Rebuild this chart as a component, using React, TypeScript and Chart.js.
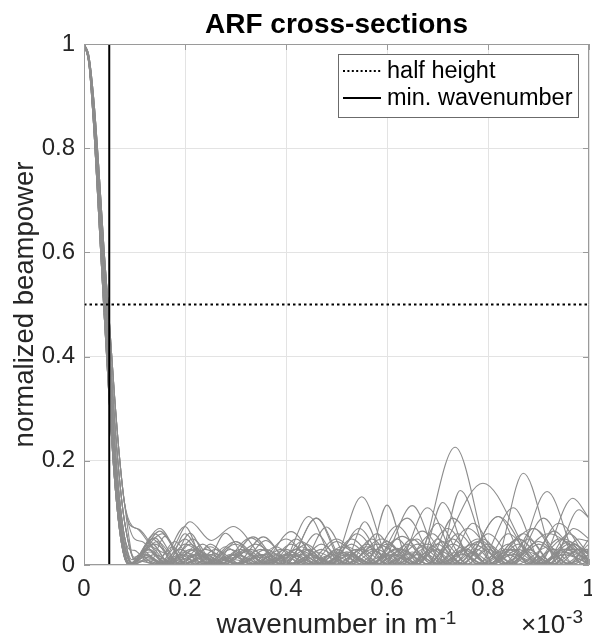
import React, { useEffect, useRef } from "react";
import { Chart, registerables } from "chart.js";
Chart.register(...registerables);

const titleText = "ARF cross-sections";
const yLabelText = "normalized beampower";
const xLabelText = "wavenumber in m";
const xLabelSup = "-1";
const xExpBase = "\u00d710";
const xExpSup = "-3";
const legendLabels = ["half height", "min. wavenumber"];

const xTicks = [0, 0.2, 0.4, 0.6, 0.8, 1];
const yTicks = [0, 0.2, 0.4, 0.6, 0.8, 1];
const halfHeight = 0.5;
const minWavenumber = 0.05;

// main lobe (x in units of 1e-3 m^-1), narrow to wide
const lobeX = [0, 0.01, 0.02, 0.03, 0.04, 0.05, 0.06, 0.07, 0.08];
const lobe1 = [1, 0.96, 0.83, 0.655, 0.48, 0.315, 0.17, 0.07, 0.015];
const lobe2 = [1, 0.963, 0.842, 0.675, 0.5, 0.337, 0.19, 0.085, 0.025];
const lobe3 = [1, 0.966, 0.853, 0.695, 0.525, 0.362, 0.215, 0.105, 0.038];
const lobe4 = [1, 0.969, 0.864, 0.715, 0.55, 0.39, 0.245, 0.13, 0.055];
const lobe5 = [1, 0.972, 0.875, 0.733, 0.575, 0.425, 0.285, 0.168, 0.085];
const lobe6 = [1, 0.975, 0.886, 0.752, 0.6, 0.47, 0.33, 0.21, 0.12];

// side lobes: [wavenumber, beampower] extrema
const side01 = [[0.09, 0.002], [0.13, 0.035], [0.165, 0.022], [0.21, 0.083], [0.252, 0.047], [0.295, 0.074], [0.37, 0.004], [0.42, 0.03], [0.47, 0.002], [0.52, 0.025], [0.57, 0.004], [0.62, 0.032], [0.68, 0.002], [0.73, 0.04], [0.79, 0.003], [0.85, 0.03], [0.9, 0.002], [0.95, 0.025], [1.0, 0.01]];
const side02 = [[0.095, 0.003], [0.13, 0.03], [0.16, 0.004], [0.2, 0.04], [0.26, 0.003], [0.31, 0.025], [0.37, 0.002], [0.42, 0.03], [0.49, 0.003], [0.55, 0.131], [0.61, 0.002], [0.66, 0.04], [0.72, 0.003], [0.78, 0.05], [0.84, 0.002], [0.9, 0.045], [0.96, 0.003], [1.0, 0.02]];
const side03 = [[0.1, 0.012], [0.14, 0.04], [0.19, 0.003], [0.24, 0.03], [0.3, 0.002], [0.36, 0.02], [0.41, 0.003], [0.46, 0.025], [0.52, 0.002], [0.58, 0.04], [0.655, 0.002], [0.735, 0.226], [0.812, 0.002], [0.86, 0.03], [0.91, 0.002], [0.96, 0.04], [1.0, 0.01]];
const side04 = [[0.09, 0.0], [0.12, 0.02], [0.15, 0.003], [0.19, 0.03], [0.24, 0.002], [0.3, 0.045], [0.36, 0.003], [0.41, 0.02], [0.46, 0.002], [0.52, 0.035], [0.58, 0.002], [0.63, 0.03], [0.68, 0.002], [0.79, 0.157], [0.905, 0.002], [0.96, 0.045], [1.0, 0.02]];
const side05 = [[0.095, 0.002], [0.135, 0.05], [0.18, 0.004], [0.22, 0.02], [0.27, 0.002], [0.33, 0.052], [0.39, 0.002], [0.445, 0.093], [0.5, 0.002], [0.56, 0.035], [0.62, 0.002], [0.68, 0.04], [0.74, 0.002], [0.78, 0.03], [0.812, 0.002], [0.87, 0.176], [0.94, 0.002], [0.98, 0.03], [1.0, 0.02]];
const side06 = [[0.1, 0.008], [0.15, 0.065], [0.2, 0.004], [0.25, 0.02], [0.3, 0.002], [0.35, 0.03], [0.4, 0.002], [0.46, 0.09], [0.52, 0.002], [0.57, 0.03], [0.62, 0.002], [0.68, 0.11], [0.745, 0.002], [0.8, 0.04], [0.85, 0.002], [0.917, 0.141], [0.985, 0.002], [1.0, 0.01]];
const side07 = [[0.09, 0.0], [0.125, 0.03], [0.165, 0.002], [0.2, 0.06], [0.245, 0.002], [0.29, 0.03], [0.34, 0.002], [0.4, 0.05], [0.46, 0.002], [0.51, 0.025], [0.56, 0.002], [0.6, 0.115], [0.645, 0.002], [0.7, 0.04], [0.75, 0.002], [0.82, 0.093], [0.9, 0.002], [0.968, 0.128], [1.0, 0.09]];
const side08 = [[0.095, 0.004], [0.14, 0.06], [0.19, 0.003], [0.23, 0.025], [0.28, 0.002], [0.33, 0.03], [0.38, 0.002], [0.43, 0.035], [0.48, 0.002], [0.53, 0.05], [0.585, 0.002], [0.65, 0.114], [0.71, 0.002], [0.75, 0.03], [0.8, 0.002], [0.89, 0.07], [0.96, 0.002], [1.0, 0.05]];
const side09 = [[0.095, 0.075], [0.11, 0.068], [0.14, 0.03], [0.17, 0.002], [0.21, 0.03], [0.25, 0.002], [0.3, 0.02], [0.35, 0.002], [0.41, 0.064], [0.47, 0.002], [0.52, 0.02], [0.57, 0.002], [0.62, 0.05], [0.665, 0.002], [0.71, 0.12], [0.77, 0.002], [0.84, 0.03], [0.89, 0.002], [0.95, 0.05], [1.0, 0.005]];
const side10 = [[0.09, 0.03], [0.1, 0.028], [0.13, 0.004], [0.16, 0.055], [0.2, 0.003], [0.24, 0.02], [0.28, 0.002], [0.34, 0.04], [0.4, 0.002], [0.46, 0.09], [0.515, 0.002], [0.556, 0.083], [0.6, 0.002], [0.66, 0.05], [0.7, 0.002], [0.745, 0.143], [0.81, 0.002], [0.86, 0.04], [0.91, 0.002], [0.96, 0.06], [1.0, 0.02]];
const side11 = [[0.09, 0.0], [0.12, 0.025], [0.15, 0.002], [0.2, 0.074], [0.24, 0.002], [0.28, 0.061], [0.33, 0.002], [0.38, 0.02], [0.42, 0.002], [0.47, 0.04], [0.52, 0.002], [0.59, 0.05], [0.65, 0.002], [0.68, 0.02], [0.71, 0.002], [0.77, 0.04], [0.84, 0.002], [0.92, 0.06], [1.0, 0.003]];
const side12 = [[0.1, 0.01], [0.145, 0.045], [0.19, 0.002], [0.235, 0.04], [0.28, 0.002], [0.335, 0.054], [0.39, 0.002], [0.44, 0.03], [0.49, 0.002], [0.54, 0.06], [0.6, 0.002], [0.65, 0.05], [0.7, 0.002], [0.76, 0.07], [0.83, 0.002], [0.88, 0.03], [0.925, 0.002], [0.98, 0.106], [1.0, 0.09]];
const side13 = [[0.095, 0.01], [0.11, 0.02], [0.14, 0.002], [0.18, 0.045], [0.22, 0.002], [0.26, 0.03], [0.31, 0.002], [0.36, 0.047], [0.41, 0.002], [0.445, 0.03], [0.48, 0.002], [0.53, 0.04], [0.58, 0.002], [0.62, 0.02], [0.66, 0.002], [0.7, 0.05], [0.75, 0.002], [0.82, 0.093], [0.88, 0.002], [0.93, 0.03], [1.0, 0.002]];
const side14 = [[0.09, 0.0], [0.135, 0.04], [0.17, 0.002], [0.21, 0.061], [0.25, 0.002], [0.29, 0.02], [0.33, 0.002], [0.38, 0.035], [0.43, 0.002], [0.48, 0.073], [0.53, 0.002], [0.58, 0.03], [0.63, 0.002], [0.69, 0.06], [0.74, 0.002], [0.79, 0.05], [0.84, 0.002], [0.89, 0.07], [0.95, 0.002], [1.0, 0.04]];
const side15 = [[0.09, 0.078], [0.105, 0.07], [0.13, 0.04], [0.16, 0.005], [0.2, 0.02], [0.24, 0.002], [0.3, 0.04], [0.36, 0.002], [0.41, 0.025], [0.46, 0.002], [0.5, 0.03], [0.55, 0.002], [0.6, 0.045], [0.65, 0.002], [0.7, 0.03], [0.75, 0.002], [0.8, 0.06], [0.86, 0.002], [0.92, 0.035], [0.97, 0.002], [1.0, 0.02]];
const side16 = [[0.095, 0.005], [0.15, 0.07], [0.2, 0.002], [0.24, 0.015], [0.28, 0.002], [0.32, 0.03], [0.37, 0.002], [0.42, 0.05], [0.47, 0.002], [0.5, 0.01], [0.53, 0.002], [0.58, 0.06], [0.63, 0.002], [0.68, 0.035], [0.72, 0.002], [0.77, 0.08], [0.83, 0.002], [0.88, 0.05], [0.93, 0.002], [0.97, 0.04], [1.0, 0.01]];
const side17 = [[0.09, 0.0], [0.12, 0.015], [0.16, 0.002], [0.2, 0.025], [0.25, 0.002], [0.3, 0.015], [0.34, 0.002], [0.39, 0.03], [0.44, 0.002], [0.49, 0.02], [0.54, 0.002], [0.6, 0.04], [0.66, 0.002], [0.72, 0.07], [0.78, 0.002], [0.84, 0.025], [0.89, 0.002], [0.94, 0.05], [1.0, 0.003]];
const side18 = [[0.095, 0.0], [0.14, 0.02], [0.18, 0.002], [0.22, 0.035], [0.26, 0.002], [0.3, 0.045], [0.35, 0.002], [0.4, 0.02], [0.45, 0.002], [0.5, 0.045], [0.56, 0.002], [0.62, 0.075], [0.68, 0.002], [0.73, 0.05], [0.78, 0.002], [0.85, 0.11], [0.91, 0.002], [0.95, 0.03], [1.0, 0.03]];
const side19 = [[0.1, 0.012], [0.13, 0.025], [0.16, 0.002], [0.2, 0.012], [0.24, 0.002], [0.28, 0.035], [0.33, 0.002], [0.38, 0.01], [0.42, 0.002], [0.47, 0.03], [0.52, 0.002], [0.57, 0.05], [0.62, 0.002], [0.66, 0.02], [0.7, 0.002], [0.76, 0.03], [0.8, 0.002], [0.86, 0.05], [0.92, 0.002], [0.97, 0.07], [1.0, 0.05]];
const side20 = [[0.09, 0.0], [0.14, 0.052], [0.18, 0.002], [0.23, 0.02], [0.27, 0.002], [0.32, 0.025], [0.36, 0.002], [0.41, 0.04], [0.46, 0.002], [0.51, 0.035], [0.57, 0.002], [0.64, 0.09], [0.7, 0.002], [0.75, 0.02], [0.79, 0.002], [0.84, 0.06], [0.9, 0.002], [0.95, 0.02], [1.0, 0.004]];
const side21 = [[0.095, 0.0], [0.12, 0.01], [0.15, 0.002], [0.19, 0.02], [0.23, 0.002], [0.27, 0.012], [0.31, 0.002], [0.36, 0.03], [0.41, 0.002], [0.46, 0.015], [0.5, 0.002], [0.55, 0.03], [0.6, 0.002], [0.65, 0.025], [0.7, 0.002], [0.75, 0.035], [0.8, 0.002], [0.85, 0.02], [0.9, 0.002], [0.95, 0.03], [1.0, 0.01]];
const side22 = [[0.1, 0.05], [0.115, 0.045], [0.14, 0.02], [0.17, 0.002], [0.21, 0.04], [0.26, 0.002], [0.31, 0.03], [0.36, 0.002], [0.4, 0.015], [0.44, 0.002], [0.5, 0.05], [0.56, 0.002], [0.61, 0.02], [0.65, 0.002], [0.7, 0.08], [0.76, 0.002], [0.8, 0.03], [0.85, 0.002], [0.9, 0.04], [0.96, 0.002], [1.0, 0.03]];
const side23 = [[0.09, 0.0], [0.125, 0.018], [0.16, 0.002], [0.19, 0.015], [0.22, 0.002], [0.26, 0.022], [0.3, 0.002], [0.35, 0.02], [0.39, 0.002], [0.43, 0.045], [0.48, 0.002], [0.53, 0.02], [0.57, 0.002], [0.62, 0.03], [0.66, 0.002], [0.71, 0.045], [0.76, 0.002], [0.8, 0.035], [0.85, 0.002], [0.91, 0.09], [0.97, 0.002], [1.0, 0.02]];
const side24 = [[0.095, 0.004], [0.13, 0.045], [0.17, 0.002], [0.215, 0.05], [0.26, 0.002], [0.3, 0.01], [0.33, 0.002], [0.37, 0.025], [0.41, 0.002], [0.46, 0.06], [0.51, 0.002], [0.56, 0.04], [0.61, 0.002], [0.67, 0.065], [0.73, 0.002], [0.77, 0.025], [0.81, 0.002], [0.87, 0.06], [0.93, 0.002], [0.98, 0.05], [1.0, 0.045]];
const side25 = [[0.1, 0.015], [0.155, 0.06], [0.2, 0.002], [0.25, 0.035], [0.3, 0.002], [0.35, 0.015], [0.39, 0.002], [0.43, 0.02], [0.47, 0.002], [0.52, 0.025], [0.57, 0.002], [0.63, 0.055], [0.69, 0.002], [0.74, 0.025], [0.79, 0.002], [0.84, 0.04], [0.88, 0.002], [0.93, 0.065], [0.99, 0.002], [1.0, 0.004]];
const side26 = [[0.09, 0.0], [0.11, 0.008], [0.14, 0.002], [0.175, 0.035], [0.21, 0.002], [0.25, 0.04], [0.3, 0.002], [0.355, 0.054], [0.41, 0.002], [0.45, 0.02], [0.49, 0.002], [0.54, 0.03], [0.59, 0.002], [0.64, 0.04], [0.69, 0.002], [0.74, 0.06], [0.8, 0.002], [0.86, 0.05], [0.92, 0.002], [0.97, 0.04], [1.0, 0.02]];
const side27 = [[0.095, 0.002], [0.125, 0.02], [0.155, 0.002], [0.2, 0.05], [0.245, 0.002], [0.28, 0.015], [0.31, 0.002], [0.35, 0.02], [0.39, 0.002], [0.44, 0.04], [0.49, 0.002], [0.545, 0.07], [0.6, 0.002], [0.64, 0.02], [0.68, 0.002], [0.73, 0.09], [0.8, 0.002], [0.84, 0.02], [0.88, 0.002], [0.94, 0.08], [1.0, 0.005]];
const side28 = [[0.09, 0.0], [0.13, 0.01], [0.17, 0.002], [0.22, 0.03], [0.27, 0.002], [0.31, 0.018], [0.35, 0.002], [0.4, 0.03], [0.45, 0.002], [0.5, 0.025], [0.55, 0.002], [0.6, 0.02], [0.64, 0.002], [0.69, 0.03], [0.73, 0.002], [0.78, 0.045], [0.83, 0.002], [0.88, 0.025], [0.93, 0.002], [0.98, 0.03], [1.0, 0.025]];

const curves: [number[], number[][]][] = [
  [lobe1, side01], [lobe3, side02], [lobe5, side03], [lobe2, side04],
  [lobe4, side05], [lobe6, side06], [lobe1, side07], [lobe3, side08],
  [lobe6, side09], [lobe4, side10], [lobe2, side11], [lobe5, side12],
  [lobe4, side13], [lobe1, side14], [lobe6, side15], [lobe3, side16],
  [lobe2, side17], [lobe3, side18], [lobe5, side19], [lobe1, side20],
  [lobe2, side21], [lobe6, side22], [lobe2, side23], [lobe4, side24],
  [lobe5, side25], [lobe1, side26], [lobe3, side27], [lobe2, side28],
];

const FONT = '"Liberation Sans", Arial, Helvetica, sans-serif';
const TXT = "#262626";

const decorPlugin = {
  id: "decor",
  afterDraw(chart: any) {
    const { ctx, chartArea: a, scales } = chart;
    const xs = scales.x;
    const ys = scales.y;
    ctx.save();
    // axes box
    ctx.strokeStyle = "#9a9a9a";
    ctx.lineWidth = 1;
    ctx.setLineDash([]);
    ctx.beginPath();
    ctx.rect(a.left + 0.5, a.top + 0.5, a.right - a.left - 1, a.bottom - a.top - 1);
    ctx.stroke();
    // inward ticks
    const tl = 6;
    ctx.beginPath();
    xTicks.forEach((v) => {
      const px = Math.round(xs.getPixelForValue(v)) + 0.5;
      ctx.moveTo(px, a.bottom);
      ctx.lineTo(px, a.bottom - tl);
      ctx.moveTo(px, a.top);
      ctx.lineTo(px, a.top + tl);
    });
    yTicks.forEach((v) => {
      const py = Math.round(ys.getPixelForValue(v)) + 0.5;
      ctx.moveTo(a.left, py);
      ctx.lineTo(a.left + tl, py);
      ctx.moveTo(a.right, py);
      ctx.lineTo(a.right - tl, py);
    });
    ctx.stroke();

    const cx = (a.left + a.right) / 2;
    const cy = (a.top + a.bottom) / 2;
    // title
    ctx.fillStyle = "#000";
    ctx.font = `bold 28px ${FONT}`;
    ctx.textAlign = "center";
    ctx.textBaseline = "alphabetic";
    ctx.fillText(titleText, cx, 33);

    // y label
    ctx.save();
    ctx.translate(33, cy);
    ctx.rotate(-Math.PI / 2);
    ctx.fillStyle = TXT;
    ctx.font = `27.5px ${FONT}`;
    ctx.textAlign = "center";
    ctx.fillText(yLabelText, 0, 0);
    ctx.restore();

    // x label with superscript
    ctx.fillStyle = TXT;
    ctx.font = `28px ${FONT}`;
    const w1 = ctx.measureText(xLabelText).width;
    ctx.font = `19px ${FONT}`;
    const w2 = ctx.measureText(xLabelSup).width;
    const startX = cx - (w1 + w2 + 2) / 2;
    ctx.textAlign = "left";
    ctx.font = `28px ${FONT}`;
    ctx.fillText(xLabelText, startX, 633);
    ctx.font = `19px ${FONT}`;
    ctx.fillText(xLabelSup, startX + w1 + 2, 624);

    // exponent label
    ctx.font = `26px ${FONT}`;
    ctx.fillText(xExpBase, 521, 633);
    const w3 = ctx.measureText(xExpBase).width;
    ctx.font = `19px ${FONT}`;
    ctx.fillText(xExpSup, 521 + w3 + 1, 623);

    // legend
    const lx = 338, ly = 54, lw = 240, lh = 63;
    ctx.fillStyle = "#fff";
    ctx.fillRect(lx, ly, lw, lh);
    ctx.strokeStyle = "#6b6b6b";
    ctx.lineWidth = 1;
    ctx.strokeRect(lx + 0.5, ly + 0.5, lw, lh);
    const rows = [71, 98];
    ctx.strokeStyle = "#000";
    ctx.lineWidth = 2;
    ctx.setLineDash([2, 2.4]);
    ctx.beginPath();
    ctx.moveTo(343, rows[0]);
    ctx.lineTo(381, rows[0]);
    ctx.stroke();
    ctx.setLineDash([]);
    ctx.beginPath();
    ctx.moveTo(343, rows[1]);
    ctx.lineTo(381, rows[1]);
    ctx.stroke();
    ctx.fillStyle = "#000";
    ctx.font = `23.5px ${FONT}`;
    ctx.textAlign = "left";
    ctx.textBaseline = "middle";
    ctx.fillText(legendLabels[0], 387, rows[0] + 1);
    ctx.fillText(legendLabels[1], 387, rows[1] + 1);
    ctx.restore();
  },
};

export default function App() {
  const ref = useRef<HTMLCanvasElement>(null);
  useEffect(() => {
    const gray = "#8c8c8c";
    const curveSets = curves.map(([lobe, side], i) => ({
      label: `cross-section ${i + 1}`,
      data: lobeX
        .map((x, j) => ({ x, y: lobe[j] }))
        .concat(side.map(([x, y]) => ({ x, y }))),
      borderColor: gray,
      borderWidth: 1.1,
      pointRadius: 0,
      cubicInterpolationMode: "monotone" as const,
      order: 1,
    }));
    const datasets: any[] = [
      {
        label: legendLabels[0],
        data: [{ x: 0, y: halfHeight }, { x: 1, y: halfHeight }],
        borderColor: "#000",
        borderWidth: 2,
        borderDash: [2.5, 3],
        pointRadius: 0,
        order: 0,
      },
      {
        label: legendLabels[1],
        data: [{ x: minWavenumber, y: 0 }, { x: minWavenumber, y: 1 }],
        borderColor: "#000",
        borderWidth: 2,
        pointRadius: 0,
        order: 0,
      },
      ...curveSets,
    ];
    const chart = new Chart(ref.current as HTMLCanvasElement, {
      type: "line",
      data: { datasets },
      options: {
        animation: false,
        responsive: false,
        devicePixelRatio: 1,
        layout: { autoPadding: false, padding: { top: 44, right: 3, bottom: 0, left: 0 } },
        plugins: { legend: { display: false }, tooltip: { enabled: false }, title: { display: false } },
        scales: {
          x: {
            type: "linear",
            min: 0,
            max: 1,
            afterBuildTicks: (s: any) => {
              s.ticks = xTicks.map((value) => ({ value }));
            },
            afterFit: (s: any) => {
              s.height = 79;
              s.paddingLeft = 0;
              s.paddingRight = 0;
            },
            ticks: {
              maxRotation: 0,
              autoSkip: false,
              padding: 10,
              color: TXT,
              font: { family: FONT, size: 24 },
              callback: (v: any) => String(Number(Number(v).toFixed(1))),
            },
            grid: { color: "#e3e3e3", lineWidth: 1, drawTicks: false },
            border: { display: false },
          },
          y: {
            type: "linear",
            min: 0,
            max: 1,
            afterBuildTicks: (s: any) => {
              s.ticks = yTicks.map((value) => ({ value }));
            },
            afterFit: (s: any) => {
              s.width = 84;
              s.paddingTop = 0;
              s.paddingBottom = 0;
            },
            ticks: {
              autoSkip: false,
              padding: 9,
              color: TXT,
              font: { family: FONT, size: 24 },
              callback: (v: any) => String(Number(Number(v).toFixed(1))),
            },
            grid: { color: "#e3e3e3", lineWidth: 1, drawTicks: false },
            border: { display: false },
          },
        },
      },
      plugins: [decorPlugin],
    } as any);
    return () => chart.destroy();
  }, []);
  return (
    <div style={{ position: "fixed", left: 0, top: 0, width: 592, height: 644, background: "#fff" }}>
      <canvas ref={ref} width={592} height={644} style={{ display: "block", width: 592, height: 644 }} />
    </div>
  );
}
